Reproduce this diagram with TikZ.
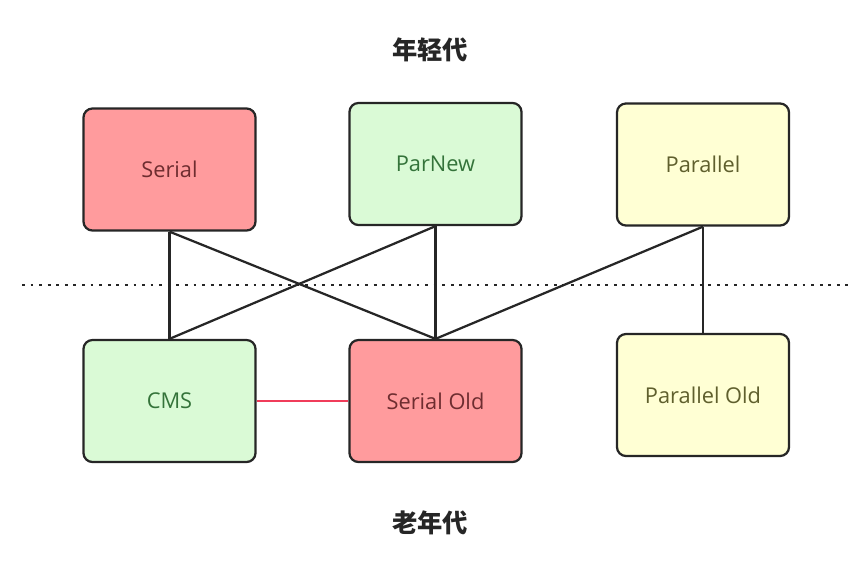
\documentclass[tikz,border=0pt]{standalone}
\usepackage{fontspec}
\setmainfont{Open Sans}
\newfontfamily\cjk{Noto Sans CJK SC}
\usetikzlibrary{calc}
\definecolor{rahmen}{RGB}{38,38,38}
\definecolor{rotfuell}{RGB}{255,155,157}
\definecolor{rottext}{RGB}{110,45,48}
\definecolor{gruenfuell}{RGB}{218,250,214}
\definecolor{gruentext}{RGB}{52,115,58}
\definecolor{gelbfuell}{RGB}{255,255,212}
\definecolor{gelbtext}{RGB}{95,95,45}
\definecolor{linie}{RGB}{240,60,90}

\tikzset{
    gcbox/.style={draw=rahmen, line width=1.6pt, rounded corners=1.2ex,
            minimum width=4.3cm, minimum height=3.05cm, inner sep=0pt,
            font=\fontsize{15.5}{18}\selectfont},
    rotbox/.style={gcbox, fill=rotfuell, text=rottext},
    gruenbox/.style={gcbox, fill=gruenfuell, text=gruentext},
    gelbbox/.style={gcbox, fill=gelbfuell, text=gelbtext},
    verbindung/.style={draw=rahmen, line width=1.6pt},
    titel/.style={font=\cjk\bfseries\fontsize{18}{21}\selectfont, text=black!85}
}

\begin{document}
\begin{tikzpicture}[x=0.025cm, y=-0.025cm]

    \useasboundingbox (0,0) rectangle (852,568);

    \node[titel] (jung) at (430,50) {年轻代};
    \node[titel] (alt) at (430,523) {老年代};

    % junge Generation
    \node[rotbox] (Serial) at (169.5,169.5) {Serial};
    \node[gruenbox] (ParNew) at (435.5,164) {ParNew};
    \node[gelbbox] (Parallel) at (703,164.5) {Parallel};

    % alte Generation
    \node[gruenbox] (CMS) at (169.5,401) {CMS};
    \node[rotbox] (SerialOld) at (435.5,401) {Serial Old};
    \node[gelbbox] (ParallelOld) at (703,395) {Parallel Old};

    \coordinate (links) at (22,285);
    \coordinate (rechts) at (852,285);
    \draw[black!85, line width=2pt, dash pattern=on 2pt off 4.1pt] (links) -- (rechts);

    \draw[verbindung] (Serial.south) -- (CMS.north);
    \draw[verbindung] (Serial.south) -- (SerialOld.north);
    \draw[verbindung] (ParNew.south) -- (CMS.north);
    \draw[verbindung] (ParNew.south) -- (SerialOld.north);
    \draw[verbindung] (Parallel.south) -- (SerialOld.north);
    \draw[verbindung] (Parallel.south) -- (ParallelOld.north);

    \draw[linie, line width=1.5pt] (CMS.east) -- (SerialOld.west);

\end{tikzpicture}
\end{document}
